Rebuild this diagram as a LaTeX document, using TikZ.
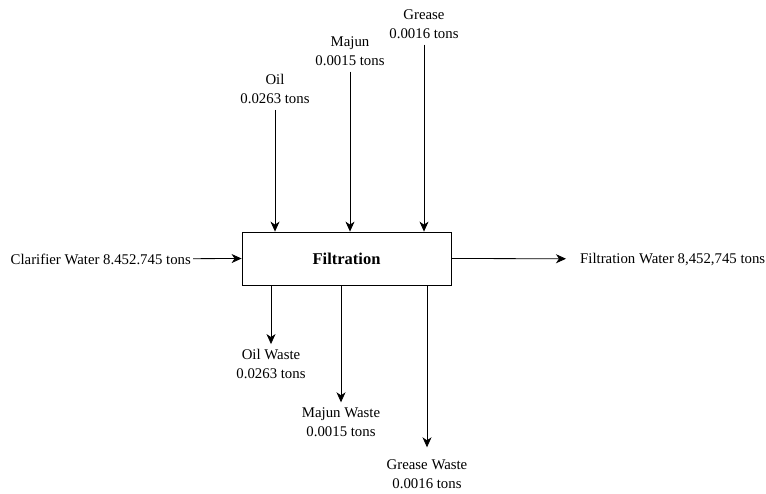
\documentclass[tikz,border=0pt]{standalone}
\usepackage{fontspec}
\setmainfont{Liberation Serif}
\usetikzlibrary{arrows.meta, positioning}

\begin{document}
\begin{tikzpicture}[
        x=1pt, y=-1pt,
        every node/.style={font=\rmfamily\fontsize{14.8}{19}\selectfont, inner sep=2pt},
        process/.style={draw, thick, minimum width=209pt, minimum height=53pt, font=\rmfamily\fontsize{16.5}{19}\selectfont\bfseries},
        amount/.style={align=center},
        flow/.style={thick, -{Stealth[length=10pt, width=9pt, inset=3pt]}}
    ]
    \useasboundingbox (0,0) rectangle (766,493);

    % Process box
    \node[process] (box) at (346.5, 258.5) {Filtration};

    % Inputs from above
    \node[amount] (oil) at (275, 89) {Oil\\0.0263 tons};
    \node[amount] (majun) at (350, 51) {Majun\\0.0015 tons};
    \node[amount] (grease) at (424, 24) {Grease\\0.0016 tons};

    \draw[flow, shorten <=4pt] (oil) -- (oil |- box.north);
    \draw[flow, shorten <=4pt] (majun) -- (majun |- box.north);
    \draw[flow, shorten <=4pt] (grease) -- (grease |- box.north);

    % Main stream in and out
    \node[anchor=east] (clarifier) at (193, 259) {Clarifier Water 8.452.745 tons};
    \node[anchor=west] (filtered) at (578, 259) {Filtration Water 8,452,745 tons};

    \draw[flow] (clarifier) -- (box.west);
    \draw[flow, shorten >=12pt] (box.east) -- (filtered);

    % Waste outputs below
    \node[amount] (oilwaste) at (271, 364) {Oil Waste\\0.0263 tons};
    \node[amount] (majunwaste) at (341, 422) {Majun Waste\\0.0015 tons};
    \node[amount] (greasewaste) at (427, 474) {Grease Waste\\0.0016 tons};

    \draw[flow, shorten >=3pt] (box.south -| oilwaste) -- (oilwaste);
    \draw[flow, shorten >=3pt] (box.south -| majunwaste) -- (majunwaste);
    \draw[flow, shorten >=10pt] (box.south -| greasewaste) -- (greasewaste);

\end{tikzpicture}
\end{document}
